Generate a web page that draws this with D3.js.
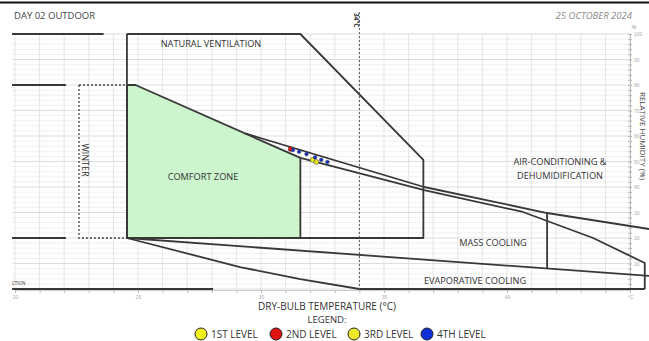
<!DOCTYPE html>
<html>
<head>
<meta charset="utf-8">
<script src="https://cdn.jsdelivr.net/npm/d3@7"></script>
<style>
  body { margin: 0; background: #fff; }
  svg { display: block; font-family: "Open Sans", "DejaVu Sans", sans-serif; }
</style>
</head>
<body>
<svg id="chart" width="649" height="341"></svg>
<script>
// ---- data -------------------------------------------------------------
const tempTicks = [20, 25, 30, 35, 40];
const tempAxisUnit = "°C";
const rhTicks = [10, 20, 30, 40, 50, 60, 70, 80, 90, 100];

// zone outlines, [dry-bulb °C, relative humidity %]
const naturalVentilation = [[24.55, 100], [31.6, 100], [36.6, 50.6], [36.6, 20], [24.55, 20]];
const comfortZone = [[24.55, 20], [24.55, 80], [24.9, 80], [31.6, 51.4], [31.6, 20]];
const winterZone = [[22.6, 80], [24.55, 80], [24.55, 20], [22.6, 20], [22.6, 80]];
const airConditioningEdge = [[29.35, 61.0], [36.63, 40.0], [41.63, 29.8], [45.8, 23.5]];
const massCoolingEdge = [[31.6, 51.4], [36.63, 38.8], [40.65, 30.2], [43.5, 20.0], [45.6, 10.2], [45.6, 0]];
const massCoolingDivider = [[41.63, 29.8], [41.63, 8.0]];
const evaporativeTop = [[24.55, 20], [45.8, 5.1]];
const evaporativeBottom = [[24.55, 20], [29.15, 8.6], [31.6, 3.9], [34.0, 0], [45.6, 0]];
const edgeLines = [
  [[19.88, 100], [23.6, 100]],
  [[19.88, 80], [22.07, 80]],
  [[19.88, 20], [22.07, 20]],
  [[19.88, 0], [28.05, 0]]
];
const markerTemp = 34.0;
const markerLabel = "34°C";

// measured readings per level, [dry-bulb °C, relative humidity %]
const level1 = [[32.1, 50.6]];
const level2 = [[31.2, 54.9]];
const level3 = [[32.25, 49.8]];
const level4 = [[31.3, 54.5], [31.55, 53.8], [31.85, 52.9], [32.2, 51.6], [32.45, 50.7], [32.7, 49.8]];
const levelNames = ["1ST LEVEL", "2ND LEVEL", "3RD LEVEL", "4TH LEVEL"];
const levelColors = ["#f4f21c", "#e01010", "#eeea2a", "#1030d8"];
const levelRadius = [2.4, 2.4, 2.4, 1.8];

// ---- scales -----------------------------------------------------------
const svg = d3.select("#chart");
const x = d3.scaleLinear().domain([20, 45]).range([15, 630]);
const y = d3.scaleLinear().domain([0, 100]).range([289, 34]);
const gridT = [19.88, 45.08];
const line = d3.line().x(d => x(d[0])).y(d => y(d[1]));

// top rule
svg.append("line").attr("x1", 0).attr("x2", 649).attr("y1", 2.5).attr("y2", 2.5)
  .attr("stroke", "#111").attr("stroke-width", 2);

// ---- grid -------------------------------------------------------------
const grid = svg.append("g");
grid.selectAll("line.h").data(d3.range(0, 101, 2)).join("line")
  .attr("x1", x(gridT[0])).attr("x2", x(gridT[1]))
  .attr("y1", d => y(d)).attr("y2", d => y(d))
  .attr("stroke", d => d % 10 === 0 ? "#d4d4d4" : "#ececec").attr("stroke-width", 0.8);
grid.selectAll("line.v").data(d3.range(20, 46, 1)).join("line")
  .attr("x1", d => x(d)).attr("x2", d => x(d))
  .attr("y1", y(100)).attr("y2", y(0))
  .attr("stroke", "#dedede").attr("stroke-width", 0.8);

// bottom axis
const xAxis = d3.axisBottom(x).tickValues(d3.range(20, 46, 1)).tickSize(3)
  .tickFormat(d => tempTicks.includes(d) ? d : (d === 45 ? tempAxisUnit : ""));
const gx = svg.append("g").attr("transform", `translate(0,${y(0) + 1})`).call(xAxis);
gx.select(".domain").attr("stroke", "#ccc");
gx.selectAll(".tick line").attr("stroke", "#bbb");
gx.selectAll("text").attr("font-size", 5).attr("fill", "#aaa").attr("dy", "0.5em");

// right axis
const yAxis = d3.axisRight(y).tickValues(d3.range(0, 101, 2)).tickSize(2)
  .tickFormat(d => rhTicks.includes(d) ? d : "");
const gy = svg.append("g").attr("transform", `translate(${x(45)},0)`).call(yAxis);
gy.select(".domain").attr("stroke", "#bbb");
gy.selectAll(".tick line").attr("stroke", "#bbb").attr("x1", -2);
gy.selectAll("text").attr("font-size", 5).attr("fill", "#aaa").attr("x", 4);
svg.append("text").attr("x", 634).attr("y", 29).attr("font-size", 6).attr("fill", "#999")
  .attr("text-anchor", "middle").text("%");
svg.append("text").attr("transform", `translate(${640},${y(60)}) rotate(90)`)
  .attr("font-size", 8).attr("fill", "#444").attr("text-anchor", "middle")
  .text("RELATIVE HUMIDITY (%)");

// ---- zones ------------------------------------------------------------
svg.append("path").attr("d", line(comfortZone) + "Z").attr("fill", "#cdf5cd").attr("stroke", "none");

const stroke = "#383838";
svg.append("path").attr("d", line(winterZone)).attr("fill", "none")
  .attr("stroke", "#444").attr("stroke-width", 1.3).attr("stroke-dasharray", "2,2");
[naturalVentilation.concat([naturalVentilation[0]]), comfortZone, airConditioningEdge, massCoolingEdge,
 massCoolingDivider, evaporativeTop, evaporativeBottom, ...edgeLines].forEach(pts => {
  svg.append("path").attr("d", line(pts)).attr("fill", "none")
    .attr("stroke", stroke).attr("stroke-width", 1.8).attr("stroke-linejoin", "round");
});

// temperature marker
svg.append("line").attr("x1", x(markerTemp)).attr("x2", x(markerTemp))
  .attr("y1", 12).attr("y2", y(0))
  .attr("stroke", "#555").attr("stroke-width", 1).attr("stroke-dasharray", "2,2");
svg.append("text").attr("transform", `translate(${x(markerTemp) - 5},${13}) rotate(90)`)
  .attr("font-size", 6.5).attr("font-weight", "bold").attr("fill", "#333").text(markerLabel);

// ---- zone labels ------------------------------------------------------
const label = (t, xx, yy, size = 9.2, anchor = "middle") =>
  svg.append("text").attr("x", xx).attr("y", yy).attr("font-size", size)
    .attr("fill", "#333").attr("text-anchor", anchor).text(t);
label("NATURAL VENTILATION", 211, 47);
label("COMFORT ZONE", 203, 180);
label("AIR-CONDITIONING &", 560, 165);
label("DEHUMIDIFICATION", 560, 179);
label("MASS COOLING", 493, 246);
label("EVAPORATIVE COOLING", 475, 284);
label("CTION", 12, 285, 4.5, "start");
svg.append("text").attr("transform", `translate(${82},${160}) rotate(90)`)
  .attr("font-size", 9).attr("fill", "#333").attr("text-anchor", "middle").text("WINTER");

// titles
svg.append("text").attr("x", 14).attr("y", 19).attr("font-size", 9.5).attr("fill", "#444")
  .text("DAY 02 OUTDOOR");
svg.append("text").attr("x", 632).attr("y", 19).attr("font-size", 9.5).attr("fill", "#888")
  .attr("font-style", "italic").attr("text-anchor", "end").text("25 OCTOBER 2024");
label("DRY-BULB TEMPERATURE (°C)", 327, 310, 10);
label("LEGEND:", 327, 323, 9.5);

// ---- readings ---------------------------------------------------------
[level1, level2, level3, level4].forEach((pts, i) => {
  svg.append("g").selectAll("circle").data(pts).join("circle")
    .attr("cx", d => x(d[0])).attr("cy", d => y(d[1])).attr("r", levelRadius[i])
    .attr("fill", levelColors[i]).attr("stroke", "#333").attr("stroke-width", 0.5);
});

// ---- legend -----------------------------------------------------------
const legendX = [201, 276, 354, 427];
const lg = svg.append("g").selectAll("g").data(levelNames).join("g")
  .attr("transform", (d, i) => `translate(${legendX[i]},${334})`);
lg.append("circle").attr("r", 6).attr("fill", (d, i) => levelColors[i])
  .attr("stroke", "#222").attr("stroke-width", 1);
lg.append("text").attr("x", 10).attr("y", 3.5).attr("font-size", 10).attr("fill", "#333").text(d => d);
</script>
</body>
</html>
